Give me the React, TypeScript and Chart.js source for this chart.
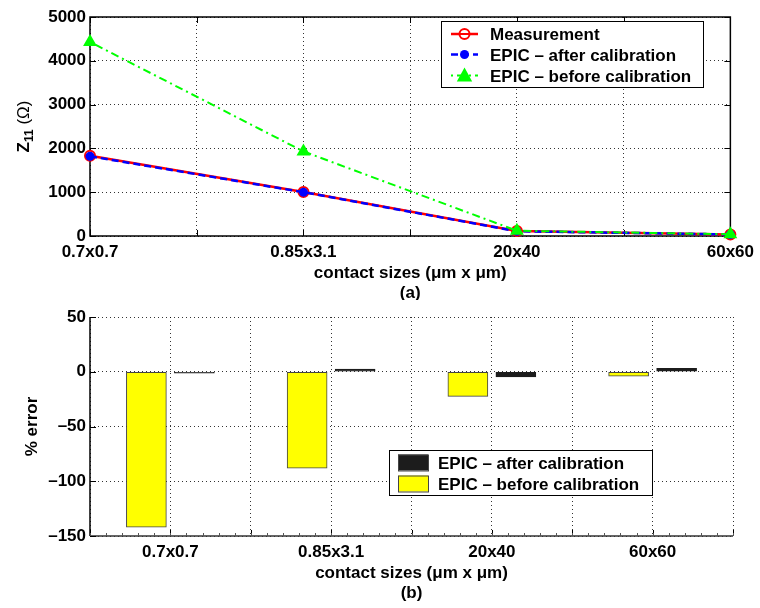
import React, { useEffect, useRef } from 'react';
import { Chart, registerables } from 'chart.js';

Chart.register(...registerables);

// ---------- data ----------
const categories = ['0.7x0.7', '0.85x3.1', '20x40', '60x60'];
const measurement = [1830, 1005, 112, 35];
const epicAfter = [1820, 1000, 108, 35];
const epicBefore = [4430, 1930, 120, 40];
const topLegend = ['Measurement', 'EPIC \u2013 after calibration', 'EPIC \u2013 before calibration'];

const errorAfter = [-1.2, 2.5, -4.8, 3.2];
const errorBefore = [-142, -88, -22.5, -4];
const bottomLegend = ['EPIC \u2013 after calibration', 'EPIC \u2013 before calibration'];

const xTitle = 'contact sizes (\u03bcm x \u03bcm)';

// ---------- styles ----------
const FONT = "'Liberation Sans', Arial, Helvetica, sans-serif";
const RED = '#ff0000';
const BLUE = '#0000ff';
const GREEN = '#00ff00';
const YELLOW = '#ffff00';
const DARK = '#1c1c1c';

const gridStyle = {
  color: 'rgba(0,0,0,0.8)',
  lineWidth: 1,
  drawTicks: false,
};
const gridBorder = { display: false, dash: [1, 3] };

function drawInwardTicks(chart: any, opts: { top: boolean; right: boolean; minor?: boolean }) {
  const { ctx, chartArea: a } = chart;
  const xs = chart.scales.x;
  const ys = chart.scales.y;
  ctx.save();
  ctx.strokeStyle = '#000';
  ctx.lineWidth = 1;
  ctx.beginPath();
  xs.ticks.forEach((t: any) => {
    const px = Math.round(xs.getPixelForValue(t.value)) + 0.5;
    ctx.moveTo(px, a.bottom);
    ctx.lineTo(px, a.bottom - 6);
    if (opts.top) {
      ctx.moveTo(px, a.top);
      ctx.lineTo(px, a.top + 6);
    }
  });
  ys.ticks.forEach((t: any) => {
    const py = Math.round(ys.getPixelForValue(t.value)) + 0.5;
    ctx.moveTo(a.left, py);
    ctx.lineTo(a.left + 6, py);
    if (opts.right) {
      ctx.moveTo(a.right, py);
      ctx.lineTo(a.right - 6, py);
    }
  });
  ctx.stroke();
  if (opts.minor) {
    ctx.strokeStyle = '#555';
    ctx.beginPath();
    const step = (xs.max - xs.min) / 40;
    for (let v = xs.min; v <= xs.max + 1e-9; v += step) {
      const px = Math.round(xs.getPixelForValue(v)) + 0.5;
      ctx.moveTo(px, a.bottom);
      ctx.lineTo(px, a.bottom - 3);
    }
    ctx.stroke();
  }
  ctx.restore();
}

function drawXTitle(chart: any, sub: string) {
  const { ctx, chartArea: a } = chart;
  const cx = (a.left + a.right) / 2;
  ctx.save();
  ctx.fillStyle = '#000';
  ctx.textAlign = 'center';
  ctx.textBaseline = 'alphabetic';
  ctx.font = `bold 17px ${FONT}`;
  ctx.fillText(xTitle, cx, a.bottom + 42);
  ctx.fillText(sub, cx, a.bottom + 62);
  ctx.restore();
}

function drawMarker(ctx: CanvasRenderingContext2D, kind: string, x: number, y: number) {
  ctx.save();
  if (kind === 'circleOpen') {
    ctx.strokeStyle = RED;
    ctx.lineWidth = 2;
    ctx.fillStyle = '#fff';
    ctx.beginPath();
    ctx.arc(x, y, 5, 0, Math.PI * 2);
    ctx.fill();
    ctx.stroke();
  } else if (kind === 'dot') {
    ctx.fillStyle = BLUE;
    ctx.beginPath();
    ctx.arc(x, y, 4.5, 0, Math.PI * 2);
    ctx.fill();
  } else {
    ctx.fillStyle = GREEN;
    ctx.strokeStyle = GREEN;
    ctx.lineWidth = 2;
    ctx.beginPath();
    ctx.moveTo(x, y - 6);
    ctx.lineTo(x + 6, y + 5);
    ctx.lineTo(x - 6, y + 5);
    ctx.closePath();
    ctx.fill();
    ctx.stroke();
  }
  ctx.restore();
}

const topPlugin = {
  id: 'topDeco',
  beforeDatasetsDraw(chart: any) {
    const { ctx, chartArea: a } = chart;
    ctx.save();
    ctx.strokeStyle = '#000';
    ctx.lineWidth = 1.5;
    ctx.strokeRect(a.left, a.top, a.right - a.left, a.bottom - a.top);
    ctx.restore();
    drawInwardTicks(chart, { top: true, right: true });
  },
  afterDraw(chart: any) {
    const { ctx, chartArea: a } = chart;
    // y title with subscript
    ctx.save();
    ctx.translate(23, (a.top + a.bottom) / 2);
    ctx.rotate(-Math.PI / 2);
    ctx.fillStyle = '#000';
    ctx.textBaseline = 'alphabetic';
    ctx.textAlign = 'left';
    const f1 = `bold 17px ${FONT}`;
    const f2 = `bold 12px ${FONT}`;
    const f3 = `17px ${FONT}`;
    ctx.font = f1;
    const wZ = ctx.measureText('Z').width;
    ctx.font = f2;
    const w11 = ctx.measureText('11').width;
    ctx.font = f3;
    const wO = ctx.measureText(' (\u03a9)').width;
    let x0 = -(wZ + w11 + wO) / 2;
    ctx.font = f1;
    ctx.fillText('Z', x0, 6);
    x0 += wZ;
    ctx.font = f2;
    ctx.fillText('11', x0, 10);
    x0 += w11;
    ctx.font = f3;
    ctx.fillText(' (\u03a9)', x0, 6);
    ctx.restore();

    drawXTitle(chart, '(a)');

    // legend
    const lx = 441, ly = 21, lw = 262, lh = 66;
    ctx.save();
    ctx.fillStyle = '#fff';
    ctx.fillRect(lx, ly, lw, lh);
    ctx.strokeStyle = '#000';
    ctx.lineWidth = 1;
    ctx.strokeRect(lx + 0.5, ly + 0.5, lw, lh);
    const rows = [34, 54.5, 75.5];
    const styles = [
      { color: RED, dash: [] as number[], width: 2.5, marker: 'circleOpen' },
      { color: BLUE, dash: [7, 4], width: 2.5, marker: 'dot' },
      { color: GREEN, dash: [2, 4, 8, 4], width: 2, marker: 'tri' },
    ];
    rows.forEach((ry, i) => {
      const s = styles[i];
      ctx.save();
      ctx.strokeStyle = s.color;
      ctx.lineWidth = s.width;
      ctx.setLineDash(s.dash);
      ctx.beginPath();
      ctx.moveTo(451, ry);
      ctx.lineTo(478, ry);
      ctx.stroke();
      ctx.restore();
      drawMarker(ctx, s.marker, 464.5, ry);
      if (i === 0) {
        ctx.save();
        ctx.strokeStyle = RED;
        ctx.lineWidth = 2;
        ctx.beginPath();
        ctx.moveTo(459, ry);
        ctx.lineTo(470, ry);
        ctx.stroke();
        ctx.restore();
      }
      ctx.fillStyle = '#000';
      ctx.font = `bold 17px ${FONT}`;
      ctx.textAlign = 'left';
      ctx.textBaseline = 'alphabetic';
      ctx.fillText(topLegend[i], 490, ry + 6);
    });
    ctx.restore();
  },
};

const bottomPlugin = {
  id: 'bottomDeco',
  beforeDatasetsDraw(chart: any) {
    const { ctx, chartArea: a } = chart;
    ctx.save();
    ctx.lineWidth = 1.5;
    ctx.strokeStyle = '#000';
    ctx.beginPath();
    ctx.moveTo(a.left, a.top);
    ctx.lineTo(a.left, a.bottom);
    ctx.stroke();
    ctx.strokeStyle = '#333';
    ctx.beginPath();
    ctx.moveTo(a.left, a.bottom);
    ctx.lineTo(a.right, a.bottom);
    ctx.stroke();
    ctx.restore();
    drawInwardTicks(chart, { top: false, right: false, minor: true });
  },
  afterDraw(chart: any) {
    const { ctx, chartArea: a } = chart;
    ctx.save();
    ctx.translate(23, (a.top + a.bottom) / 2);
    ctx.rotate(-Math.PI / 2);
    ctx.fillStyle = '#000';
    ctx.font = `bold 17px ${FONT}`;
    ctx.textAlign = 'center';
    ctx.textBaseline = 'alphabetic';
    ctx.fillText('% error', 0, 14);
    ctx.restore();

    drawXTitle(chart, '(b)');

    const lx = 389, ly = 150, lw = 263, lh = 45;
    ctx.save();
    ctx.fillStyle = '#fff';
    ctx.fillRect(lx, ly, lw, lh);
    ctx.strokeStyle = '#000';
    ctx.lineWidth = 1;
    ctx.strokeRect(lx + 0.5, ly + 0.5, lw, lh);
    const rows = [162.5, 183.5];
    const fills = [DARK, YELLOW];
    rows.forEach((ry, i) => {
      ctx.fillStyle = fills[i];
      ctx.fillRect(398, ry - 8, 30, 16);
      ctx.strokeStyle = '#444';
      ctx.strokeRect(398.5, ry - 7.5, 30, 16);
      ctx.fillStyle = '#000';
      ctx.font = `bold 17px ${FONT}`;
      ctx.textAlign = 'left';
      ctx.textBaseline = 'alphabetic';
      ctx.fillText(bottomLegend[i], 438, ry + 6);
    });
    ctx.restore();
  },
};

const tickFont = { family: FONT, size: 17, weight: 'bold' as const };
const fmtNum = (v: number) => String(v).replace('-', '\u2013');

function TopChart() {
  const ref = useRef<HTMLCanvasElement>(null);
  useEffect(() => {
    const toPts = (arr: number[]) => arr.map((y, i) => ({ x: i, y }));
    const chart = new Chart(ref.current!, {
      type: 'line',
      data: {
        datasets: [
          {
            label: topLegend[0],
            data: toPts(measurement),
            borderColor: RED,
            borderWidth: 2.5,
            pointStyle: 'circle',
            pointRadius: 5,
            pointBorderWidth: 2,
            pointBorderColor: RED,
            pointBackgroundColor: '#fff',
            order: 3,
            clip: false,
          } as any,
          {
            label: topLegend[1],
            data: toPts(epicAfter),
            borderColor: BLUE,
            borderWidth: 2.5,
            borderDash: [7, 4],
            pointRadius: 4.5,
            pointBorderWidth: 0,
            pointBackgroundColor: BLUE,
            order: 2,
            clip: false,
          },
          {
            label: topLegend[2],
            data: toPts(epicBefore),
            borderColor: GREEN,
            borderWidth: 2,
            borderDash: [2, 4, 8, 4],
            pointStyle: 'triangle',
            pointRadius: 6,
            pointBorderWidth: 2,
            pointBorderColor: GREEN,
            pointBackgroundColor: GREEN,
            order: 1,
            clip: false,
          },
        ],
      },
      options: {
        animation: false,
        responsive: false,
        maintainAspectRatio: false,
        layout: { padding: { left: 0, right: 27, top: 17, bottom: 0 } },
        plugins: { legend: { display: false }, tooltip: { enabled: false } },
        scales: {
          x: {
            type: 'linear',
            min: 0,
            max: 3,
            grid: { ...gridStyle },
            border: gridBorder,
            ticks: {
              stepSize: 0.5,
              autoSkip: false,
              maxRotation: 0,
              padding: 6,
              color: '#000',
              font: tickFont,
              callback: (v: any) => (Number.isInteger(v) ? categories[v] : ''),
            },
            afterFit: (s: any) => { s.height = 64; },
          },
          y: {
            min: 0,
            max: 5000,
            grid: { ...gridStyle },
            border: gridBorder,
            ticks: {
              stepSize: 1000,
              padding: 4,
              color: '#000',
              font: tickFont,
              callback: (v: any) => fmtNum(v),
            },
            afterFit: (s: any) => { s.width = 90; },
          },
        },
      },
      plugins: [topPlugin],
    });
    return () => chart.destroy();
  }, []);
  return <canvas ref={ref} width={760} height={300} style={{ position: 'absolute', left: 0, top: 0 }} />;
}

function BottomChart() {
  const ref = useRef<HTMLCanvasElement>(null);
  useEffect(() => {
    const toPts = (arr: number[]) => arr.map((y, i) => ({ x: i + 1, y }));
    const chart = new Chart(ref.current!, {
      type: 'bar',
      data: {
        datasets: [
          {
            label: bottomLegend[1],
            data: toPts(errorBefore),
            backgroundColor: YELLOW,
            borderColor: '#444',
            borderWidth: 1,
            borderSkipped: false,
            barThickness: 48,
            maxBarThickness: 40,
          } as any,
          {
            label: bottomLegend[0],
            data: toPts(errorAfter),
            backgroundColor: DARK,
            borderColor: DARK,
            borderWidth: 1,
            borderSkipped: false,
            barThickness: 48,
            maxBarThickness: 40,
          },
        ],
      },
      options: {
        animation: false,
        responsive: false,
        maintainAspectRatio: false,
        layout: { padding: { left: 0, right: 27, top: 17, bottom: 0 } },
        plugins: { legend: { display: false }, tooltip: { enabled: false } },
        scales: {
          x: {
            type: 'linear',
            min: 0.5,
            max: 4.5,
            offset: false,
            grid: { ...gridStyle, offset: false },
            border: gridBorder,
            ticks: {
              stepSize: 0.5,
              autoSkip: false,
              maxRotation: 0,
              padding: 6,
              color: '#000',
              font: tickFont,
              callback: (v: any) => (Number.isInteger(v) ? categories[v - 1] : ''),
            },
            afterFit: (s: any) => { s.height = 72; },
          },
          y: {
            min: -150,
            max: 50,
            grid: { ...gridStyle },
            border: gridBorder,
            ticks: {
              stepSize: 50,
              padding: 4,
              color: '#000',
              font: tickFont,
              callback: (v: any) => fmtNum(v),
            },
            afterFit: (s: any) => { s.width = 90; },
          },
        },
      },
      plugins: [bottomPlugin],
    });
    return () => chart.destroy();
  }, []);
  return <canvas ref={ref} width={760} height={308} style={{ position: 'absolute', left: 0, top: 300 }} />;
}

export default function App() {
  return (
    <div style={{ position: 'fixed', left: 0, top: 0, width: 760, height: 608, background: '#fff' }}>
      <TopChart />
      <BottomChart />
    </div>
  );
}
